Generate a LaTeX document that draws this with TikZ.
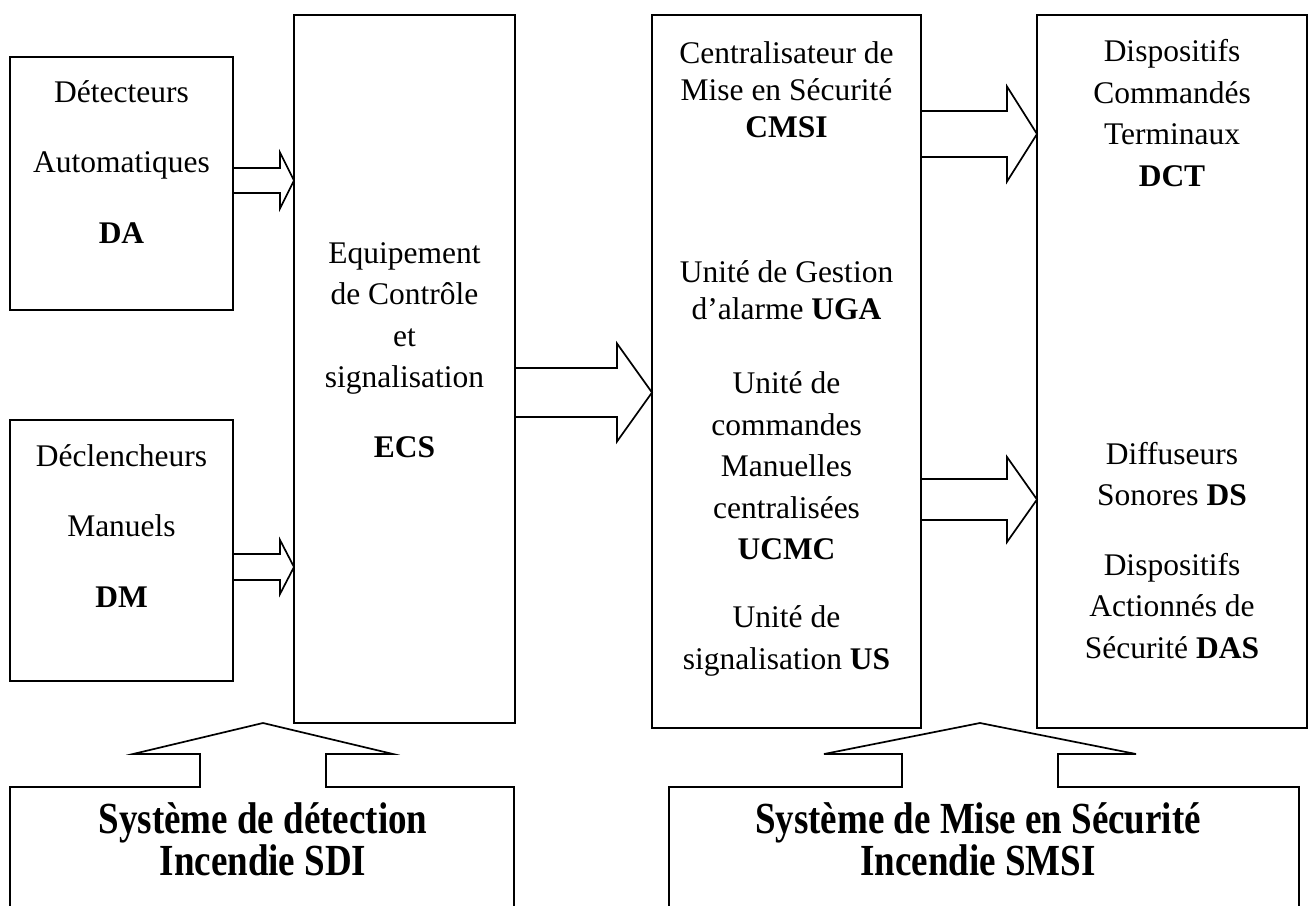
\documentclass[tikz,border=0pt]{standalone}
\usepackage{fontspec}
\setmainfont{Liberation Serif}
\usepackage{graphicx}
\usetikzlibrary{calc}
\tikzset{
    box/.style={draw, line width=1.7pt, inner sep=0pt, outer sep=0pt},
    txt/.style={align=center, inner sep=0pt, font=\fontsize{31.5}{41.5}\selectfont},
    wide/.style={font=\fontsize{31.5}{70.5}\selectfont},
    tight/.style={font=\fontsize{31.5}{37}\selectfont},
    title/.style={align=center, inner sep=0pt, font=\fontsize{37}{42}\selectfont},
    fat/.style={draw, line width=1.7pt, line join=miter}
}
% block arrow: from, to, y, half shaft, half head, head length
\newcommand{\fatarrow}[6]{%
  \draw[fat] let \p1=(#1.east), \p2=(#2.west), \p3=(0,#3) in
    (\x1,\y3+#4pt) -- (\x2-#6pt,\y3+#4pt) -- (\x2-#6pt,\y3+#5pt) -- (\x2,\y3)
    -- (\x2-#6pt,\y3-#5pt) -- (\x2-#6pt,\y3-#4pt) -- (\x1,\y3-#4pt);}
\newcommand{\tallbf}[1]{\scalebox{1}[1.2]{\bfseries #1}}

\begin{document}
\begin{tikzpicture}[x=1pt, y=-1pt]
  \path[use as bounding box, fill=white] (0,0) rectangle (1311,905);

  % boxes
  \node[box, minimum width=223pt, minimum height=253pt] (da) at (121.5,183.5) {};
  \node[box, minimum width=223pt, minimum height=261pt] (dm) at (121.5,550.5) {};
  \node[box, minimum width=221pt, minimum height=708pt] (ecs) at (404.5,369) {};
  \node[box, minimum width=269pt, minimum height=713pt] (cmsi) at (786.5,371.5) {};
  \node[box, minimum width=270pt, minimum height=713pt] (dct) at (1172,371.5) {};

  % texts
  \node[txt, wide] (daTxt) at (121.5,162) {Détecteurs\\Automatiques\\\textbf{DA}};
  \node[txt, wide] (dmTxt) at (121.5,526) {Déclencheurs\\Manuels\\\textbf{DM}};
  \node[txt] (ecsTxt) at (404.5,350) {Equipement\\de Contrôle\\et\\signalisation\\[28pt]\textbf{ECS}};
  \node[txt, tight] (cmsiTxt) at (786.5,90) {Centralisateur de\\Mise en Sécurité\\\textbf{CMSI}};
  \node[txt, tight] (ugaTxt) at (786.5,290) {Unité de Gestion\\d’alarme \textbf{UGA}};
  \node[txt] (ucmcTxt) at (786.5,466) {Unité de\\commandes\\Manuelles\\centralisées\\\textbf{UCMC}};
  \node[txt] (usTxt) at (786.5,641) {Unité de\\signalisation \textbf{US}};
  \node[txt] (dctTxt) at (1172,113) {Dispositifs\\Commandés\\Terminaux\\\textbf{DCT}};
  \node[txt] (dsTxt) at (1172,474) {Diffuseurs\\Sonores \textbf{DS}};
  \node[txt] (dasTxt) at (1172,606) {Dispositifs\\Actionnés de\\Sécurité \textbf{DAS}};

  % arrows
  \fatarrow{da}{ecs}{180.5}{12.5}{28}{14}
  \fatarrow{dm}{ecs}{567}{13}{27}{14}
  \fatarrow{ecs}{cmsi}{392.5}{24.5}{49}{35}
  \fatarrow{cmsi}{dct}{134}{23}{47.5}{30}
  \fatarrow{cmsi}{dct}{499.5}{20.5}{42.5}{30}

  % systems
  \node[title] (sdi) at (263,839) {\tallbf{Système de détection}\\\tallbf{Incendie SDI}};
  \node[title] (smsi) at (978,839) {\tallbf{Système de Mise en Sécurité}\\\tallbf{Incendie SMSI}};
  \coordinate (sdiTip) at (263,723);
  \coordinate (smsiTip) at (980,723);
  \draw[fat] (10,906) -- (10,787) -- (200,787) -- (200,754) -- (133,754) -- (sdiTip)
    -- (393,754) -- (326,754) -- (326,787) -- (514,787) -- (514,906);
  \draw[fat] (669,906) -- (669,787) -- (902,787) -- (902,754) -- (824,754) -- (smsiTip)
    -- (1136,754) -- (1058,754) -- (1058,787) -- (1299,787) -- (1299,906);
\end{tikzpicture}
\end{document}
